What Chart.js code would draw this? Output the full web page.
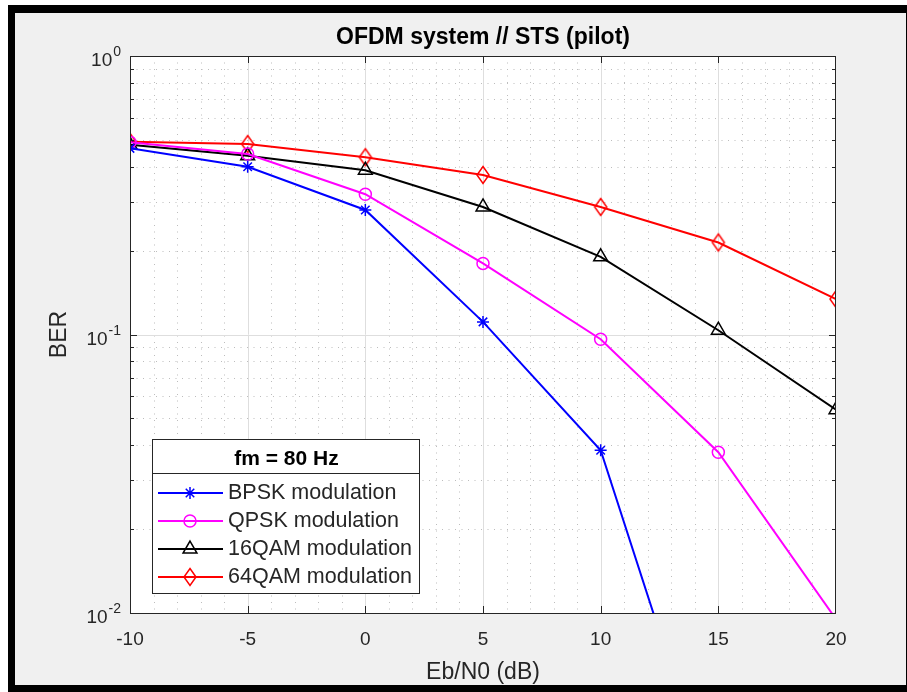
<!DOCTYPE html>
<html>
<head>
<meta charset="utf-8">
<title>OFDM system // STS (pilot)</title>
<script src="https://cdn.jsdelivr.net/npm/chart.js@4.4.0/dist/chart.umd.min.js"></script>
<style>
  html, body { margin: 0; padding: 0; background: #fff; }
  canvas { display: block; }
</style>
</head>
<body>
<canvas id="berChart" width="907" height="692"></canvas>
<script>
"use strict";

// ð data
let ebno = [-10, -5, 0, 5, 10, 15, 20];

let bpsk  = [0.466, 0.400, 0.280, 0.111, 0.0384, 0.0019, null];   // 20 dB is zero -> not on log axis
let qpsk  = [0.490, 0.445, 0.319, 0.180, 0.0962, 0.0378, 0.0095];
let qam16 = [0.480, 0.438, 0.389, 0.287, 0.190, 0.1036, 0.0537];
let qam64 = [0.492, 0.483, 0.433, 0.374, 0.287, 0.214, 0.134];

let seriesNames = ['BPSK modulation', 'QPSK modulation', '16QAM modulation', '64QAM modulation'];
let legendTitle = 'fm = 80 Hz';
let chartTitle = 'OFDM system // STS (pilot)';
let xTitle = 'Eb/N0 (dB)';
let yTitle = 'BER';

// tick values
let xMajor = [-5, 0, 5, 10, 15];
let xMinor = [-9, -8, -7, -6, -4, -3, -2, -1, 1, 2, 3, 4, 6, 7, 8, 9, 11, 12, 13, 14, 16, 17, 18, 19];
let yMajor = [1, 0.1, 0.01];
let yExponents = ['0', '-1', '-2'];
let yMinor = [0.02, 0.03, 0.04, 0.05, 0.06, 0.07, 0.08, 0.09, 0.2, 0.3, 0.4, 0.5, 0.6, 0.7, 0.8, 0.9];


// ð styles
const FONT = "'Liberation Sans', Arial, Helvetica, sans-serif";
const AXIS_COLOR = '#262626';

Chart.defaults.font.family = FONT;
Chart.defaults.color = AXIS_COLOR;

// tall diamond like matlab 'd'
function diamondMarker(color) {
  let c = document.createElement('canvas');
  c.width = 16;
  c.height = 22;
  let g = c.getContext('2d');
  g.strokeStyle = color;
  g.lineWidth = 1.5;
  g.beginPath();
  g.moveTo(8, 2.5);
  g.lineTo(14, 11);
  g.lineTo(8, 19.5);
  g.lineTo(2, 11);
  g.closePath();
  g.stroke();
  return c;
}

function toPoints(arr) {
  return ebno.map((x, i) => ({x: x, y: arr[i]}));
}

function series(label, values, color, style, radius) {
  return {
    label: label,
    data: toPoints(values),
    borderColor: color,
    backgroundColor: 'transparent',
    pointBorderColor: color,
    pointBackgroundColor: 'rgba(0,0,0,0)',
    pointStyle: style,
    pointRadius: radius,
    pointBorderWidth: 1.5,
    borderWidth: 2,
    tension: 0,
    spanGaps: false
  };
}


// ð plugin: matlab-ish frame, grid, box, ticks, legend
const matlabAxes = {
  id: 'matlabAxes',

  beforeDraw(chart) {
    const ctx = chart.ctx;
    const a = chart.chartArea;
    ctx.save();
    ctx.fillStyle = '#ffffff';
    ctx.fillRect(0, 0, chart.width, chart.height);
    ctx.fillStyle = '#000000';
    ctx.fillRect(8, 5, 899, 687);
    ctx.fillStyle = '#f0f0f0';
    ctx.fillRect(15, 13, 891, 672);
    ctx.fillStyle = '#ffffff';
    ctx.fillRect(a.left, a.top, a.right - a.left, a.bottom - a.top);
    ctx.restore();
  },

  beforeDatasetsDraw(chart) {
    const ctx = chart.ctx;
    const a = chart.chartArea;
    const xs = chart.scales.x;
    const ys = chart.scales.y;
    ctx.save();
    ctx.lineWidth = 1;

    // minor grid, dotted
    ctx.strokeStyle = '#bdbdbd';
    ctx.setLineDash([1, 5.5]);
    ctx.beginPath();
    for (const v of xMinor) {
      let px = Math.round(xs.getPixelForValue(v)) + 0.5;
      ctx.moveTo(px, a.top);
      ctx.lineTo(px, a.bottom);
    }
    for (const v of yMinor) {
      let py = Math.round(ys.getPixelForValue(v)) + 0.5;
      ctx.moveTo(a.left, py);
      ctx.lineTo(a.right, py);
    }
    ctx.stroke();

    // major grid, solid
    ctx.setLineDash([]);
    ctx.strokeStyle = '#dedede';
    ctx.beginPath();
    for (const v of xMajor) {
      let px = Math.round(xs.getPixelForValue(v)) + 0.5;
      ctx.moveTo(px, a.top);
      ctx.lineTo(px, a.bottom);
    }
    for (const v of yMajor) {
      let py = Math.round(ys.getPixelForValue(v)) + 0.5;
      ctx.moveTo(a.left, py);
      ctx.lineTo(a.right, py);
    }
    ctx.stroke();
    ctx.restore();
  },

  afterDraw(chart) {
    const ctx = chart.ctx;
    const a = chart.chartArea;
    const xs = chart.scales.x;
    const ys = chart.scales.y;
    ctx.save();

    // box
    ctx.strokeStyle = AXIS_COLOR;
    ctx.lineWidth = 1;
    ctx.strokeRect(a.left + 0.5, a.top + 0.5, a.right - a.left - 1, a.bottom - a.top);

    // inward ticks
    ctx.beginPath();
    for (const v of xMajor) {
      let px = Math.round(xs.getPixelForValue(v)) + 0.5;
      ctx.moveTo(px, a.bottom);
      ctx.lineTo(px, a.bottom - 7);
      ctx.moveTo(px, a.top);
      ctx.lineTo(px, a.top + 7);
    }
    for (const v of yMajor) {
      let py = Math.round(ys.getPixelForValue(v)) + 0.5;
      ctx.moveTo(a.left, py);
      ctx.lineTo(a.left + 7, py);
      ctx.moveTo(a.right, py);
      ctx.lineTo(a.right - 7, py);
    }
    for (const v of yMinor) {
      let py = Math.round(ys.getPixelForValue(v)) + 0.5;
      ctx.moveTo(a.left, py);
      ctx.lineTo(a.left + 4, py);
      ctx.moveTo(a.right, py);
      ctx.lineTo(a.right - 4, py);
    }
    ctx.stroke();

    // y tick labels 10^n
    ctx.fillStyle = AXIS_COLOR;
    ctx.textBaseline = 'middle';
    ctx.textAlign = 'right';
    yMajor.forEach((v, i) => {
      let py = ys.getPixelForValue(v);
      let right = a.left - 9;
      ctx.font = '14px ' + FONT;
      let expW = ctx.measureText(yExponents[i]).width;
      ctx.fillText(yExponents[i], right, py - 3.5);
      ctx.font = '19px ' + FONT;
      ctx.fillText('10', right - expW - 1, py + 5);
    });

    // legend
    const box = {left: 152, top: 439, right: 419, bottom: 593, split: 473};
    ctx.fillStyle = '#ffffff';
    ctx.fillRect(box.left, box.top, box.right - box.left, box.bottom - box.top);
    ctx.strokeStyle = AXIS_COLOR;
    ctx.lineWidth = 1;
    ctx.strokeRect(box.left + 0.5, box.top + 0.5, box.right - box.left, box.bottom - box.top);
    ctx.beginPath();
    ctx.moveTo(box.left, box.split + 0.5);
    ctx.lineTo(box.right, box.split + 0.5);
    ctx.stroke();

    ctx.fillStyle = '#000000';
    ctx.textAlign = 'center';
    ctx.font = 'bold 21px ' + FONT;
    ctx.fillText(legendTitle, (box.left + box.right) / 2 + 1, 459);

    chart.data.datasets.forEach((ds, i) => {
      let y = 493 + i * 28;
      ctx.strokeStyle = ds.borderColor;
      ctx.lineWidth = ds.borderWidth;
      ctx.beginPath();
      ctx.moveTo(158, y);
      ctx.lineTo(223, y);
      ctx.stroke();

      ctx.lineWidth = ds.pointBorderWidth;
      ctx.fillStyle = 'rgba(0,0,0,0)';
      Chart.helpers.drawPoint(ctx, {
        pointStyle: ds.pointStyle,
        radius: ds.pointRadius,
        rotation: 0,
        borderWidth: ds.pointBorderWidth
      }, 190, y);

      ctx.fillStyle = AXIS_COLOR;
      ctx.textAlign = 'left';
      ctx.font = '21.5px ' + FONT;
      ctx.fillText(ds.label, 228, y);
    });

    ctx.restore();
  }
};


// ð chart
let ctx = document.getElementById('berChart');

let berChart = new Chart(ctx, {
  type: 'line',
  data: {
    datasets: [
      series(seriesNames[0], bpsk, '#0000ff', 'star', 6),
      series(seriesNames[1], qpsk, '#ff00ff', 'circle', 6),
      series(seriesNames[2], qam16, '#000000', 'triangle', 8),
      series(seriesNames[3], qam64, '#ff0000', diamondMarker('#ff0000'), 7)
    ]
  },
  options: {
    responsive: false,
    animation: false,
    layout: {
      padding: {left: 0, right: 71, top: 0, bottom: 0}
    },
    plugins: {
      legend: {display: false},
      tooltip: {enabled: false},
      title: {display: false}
    },
    scales: {
      x: {
        type: 'linear',
        position: 'bottom',
        min: -10,
        max: 20,
        grid: {display: false},
        border: {display: false},
        ticks: {
          stepSize: 5,
          padding: 7,
          color: AXIS_COLOR,
          font: {size: 19}
        },
        title: {
          display: true,
          text: xTitle,
          color: AXIS_COLOR,
          font: {size: 23},
          padding: {top: 0, bottom: 6}
        },
        afterFit: (scale) => { scale.height = 79; }
      },
      xTop: {
        type: 'linear',
        position: 'top',
        min: -10,
        max: 20,
        grid: {display: false},
        border: {display: false},
        ticks: {display: false},
        title: {
          display: true,
          text: chartTitle,
          color: '#000000',
          font: {size: 23, weight: 'bold'},
          padding: {top: 24, bottom: 0}
        },
        afterFit: (scale) => { scale.height = 56; }
      },
      y: {
        type: 'logarithmic',
        position: 'left',
        min: 0.01,
        max: 1,
        grid: {display: false},
        border: {display: false},
        ticks: {display: false},
        title: {
          display: true,
          text: yTitle,
          color: AXIS_COLOR,
          font: {size: 23},
          padding: {top: 46, bottom: 0}
        },
        afterFit: (scale) => { scale.width = 130; }
      }
    }
  },
  plugins: [matlabAxes]
});
</script>
</body>
</html>
